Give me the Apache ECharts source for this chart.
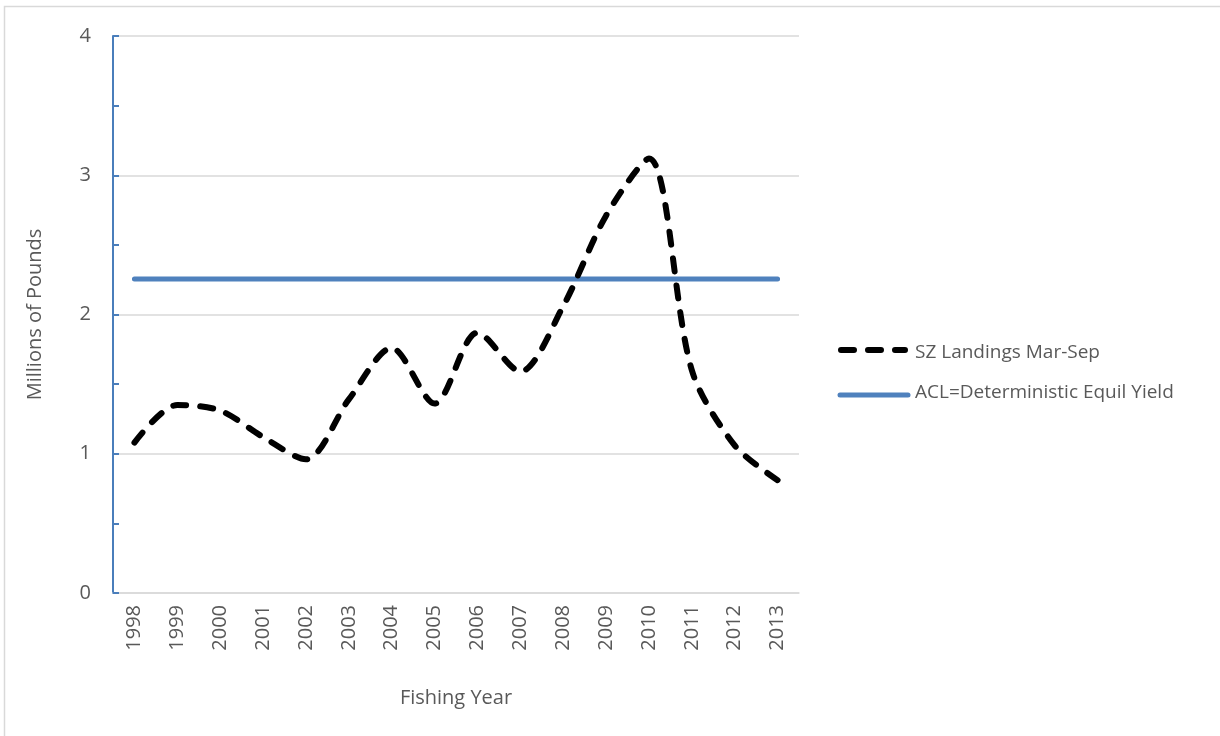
<!DOCTYPE html>
<html>
<head>
<meta charset="utf-8">
<script src="https://cdn.jsdelivr.net/npm/echarts@6/dist/echarts.min.js"></script>
<style>html,body{margin:0;padding:0;background:#fff;}#c{width:1220px;height:736px;}</style>
</head>
<body>
<div id="c"></div>
<script>
const years = ['1998','1999','2000','2001','2002','2003','2004','2005','2006','2007','2008','2009','2010','2011','2012','2013'];
const landings = [1.08,1.35,1.31,1.12,0.96,1.39,1.76,1.36,1.87,1.59,2.06,2.71,3.12,1.60,1.06,0.81];
const aclValue = 2.255;
const acl = years.map(() => aclValue);
const yTicks = [0,1,2,3,4];

const chart = echarts.init(document.getElementById('c'), null, {renderer:'canvas'});
const txt = '#595959';
const font = '"Open Sans", "Noto Sans", sans-serif';
chart.setOption({
  animation:false,
  backgroundColor:'#fff',
  textStyle:{fontFamily:font},
  graphic:[
    {type:'rect',shape:{x:4.5,y:6.5,width:1300,height:1000},style:{fill:'none',stroke:'#d9d9d9',lineWidth:1.5},silent:true},
    {type:'line',shape:{x1:841,y1:350,x2:905,y2:350},style:{stroke:'#000',lineWidth:6,lineDash:[13,14],lineCap:'round'},z:10},
    {type:'line',shape:{x1:840,y1:395,x2:908,y2:395},style:{stroke:'#4f81bd',lineWidth:5,lineCap:'round'},z:10}
  ],
  grid:{left:113,right:421,top:36,bottom:143,containLabel:false},
  legend:{
    orient:'vertical', left:840, top:338, itemGap:21, itemWidth:70, itemHeight:10,
    icon:'rect',
    textStyle:{color:txt,fontSize:19,fontFamily:font,padding:[0,0,0,-5]},
    data:[
      {name:'SZ Landings Mar-Sep', itemStyle:{opacity:0}},
      {name:'ACL=Deterministic Equil Yield', itemStyle:{opacity:0}}
    ]
  },
  xAxis:{
    type:'category', data:years, boundaryGap:true,
    axisLine:{show:true,lineStyle:{color:'#d9d9d9',width:1.5}},
    axisTick:{show:false},
    axisLabel:{rotate:90,color:txt,fontSize:20,margin:12,fontFamily:font},
    name:'Fishing Year', nameLocation:'middle', nameGap:95,
    nameTextStyle:{color:txt,fontSize:20,fontFamily:font}
  },
  yAxis:{
    type:'value', min:0, max:4, interval:1,
    axisLine:{show:true,lineStyle:{color:'#4a7ebb',width:2}},
    axisTick:{show:true,inside:true,length:6,lineStyle:{color:'#4a7ebb',width:2}},
    minorTick:{show:true,splitNumber:2,length:6,lineStyle:{color:'#4a7ebb',width:2}},
    splitLine:{show:true,lineStyle:{color:'#d9d9d9',width:1.5}},
    axisLabel:{color:txt,fontSize:20,margin:22,fontFamily:font,formatter:v=>yTicks.includes(v)?String(v):''},
    name:'Millions of Pounds', nameLocation:'middle', nameGap:68, nameRotate:90,
    nameTextStyle:{color:txt,fontSize:20,fontFamily:font}
  },
  series:[
    {name:'SZ Landings Mar-Sep', type:'line', data:landings, smooth:0.3, symbol:'none',
     lineStyle:{color:'#000',width:6,type:[13,14],cap:'round'}, z:3},
    {name:'ACL=Deterministic Equil Yield', type:'line', data:acl, symbol:'none',
     lineStyle:{color:'#4f81bd',width:5,cap:'round'}, z:2}
  ]
});
</script>
</body>
</html>
